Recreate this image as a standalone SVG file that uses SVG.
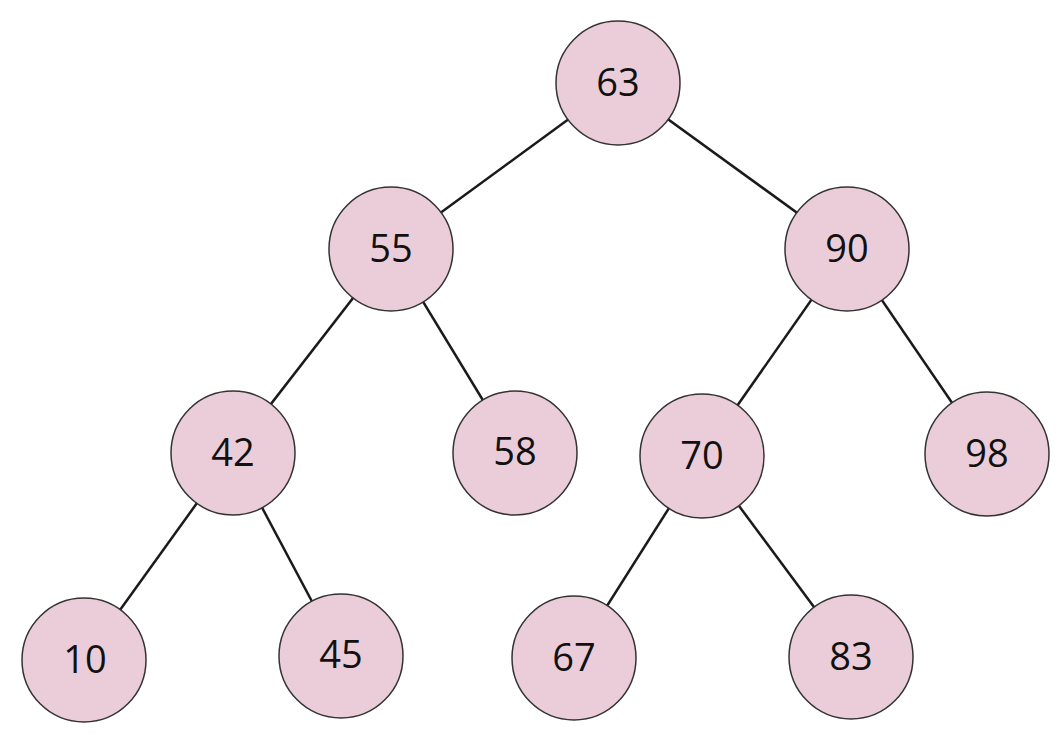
<svg xmlns="http://www.w3.org/2000/svg" width="1064" height="747" viewBox="0 0 1064 747">
<style>
.n circle{fill:#ebcdda;stroke:#333;stroke-width:1.5}
.n text{font-family:"Open Sans","Liberation Sans",Arial,sans-serif;font-size:38px;fill:#111;text-anchor:middle;dominant-baseline:central}
#edges line{stroke:#1a1a1a;stroke-width:2.5}
</style>
<rect width="1064" height="747" fill="#fff"/>
<g id="edges">
<line x1="618" y1="83" x2="391" y2="249"/>
<line x1="618" y1="83" x2="847" y2="249"/>
<line x1="391" y1="249" x2="233" y2="453"/>
<line x1="391" y1="249" x2="515" y2="453"/>
<line x1="847" y1="249" x2="702" y2="456"/>
<line x1="847" y1="249" x2="987" y2="454"/>
<line x1="233" y1="453" x2="84" y2="660"/>
<line x1="233" y1="453" x2="341" y2="656"/>
<line x1="702" y1="456" x2="574" y2="658"/>
<line x1="702" y1="456" x2="851" y2="657"/>
</g>
<g id="n63" class="n"><circle cx="618" cy="83" r="62"/><text x="618" y="81">63</text></g>
<g id="n55" class="n"><circle cx="391" cy="249" r="62"/><text x="391" y="247">55</text></g>
<g id="n90" class="n"><circle cx="847" cy="249" r="62"/><text x="847" y="247">90</text></g>
<g id="n42" class="n"><circle cx="233" cy="453" r="62"/><text x="233" y="451">42</text></g>
<g id="n58" class="n"><circle cx="515" cy="453" r="62"/><text x="515" y="450">58</text></g>
<g id="n70" class="n"><circle cx="702" cy="456" r="62"/><text x="702" y="454">70</text></g>
<g id="n98" class="n"><circle cx="987" cy="454" r="62"/><text x="987" y="452">98</text></g>
<g id="n10" class="n"><circle cx="84" cy="660" r="62"/><text x="85" y="658">10</text></g>
<g id="n45" class="n"><circle cx="341" cy="656" r="62"/><text x="341" y="653">45</text></g>
<g id="n67" class="n"><circle cx="574" cy="658" r="62"/><text x="574" y="656">67</text></g>
<g id="n83" class="n"><circle cx="851" cy="657" r="62"/><text x="851" y="655">83</text></g>
</svg>
